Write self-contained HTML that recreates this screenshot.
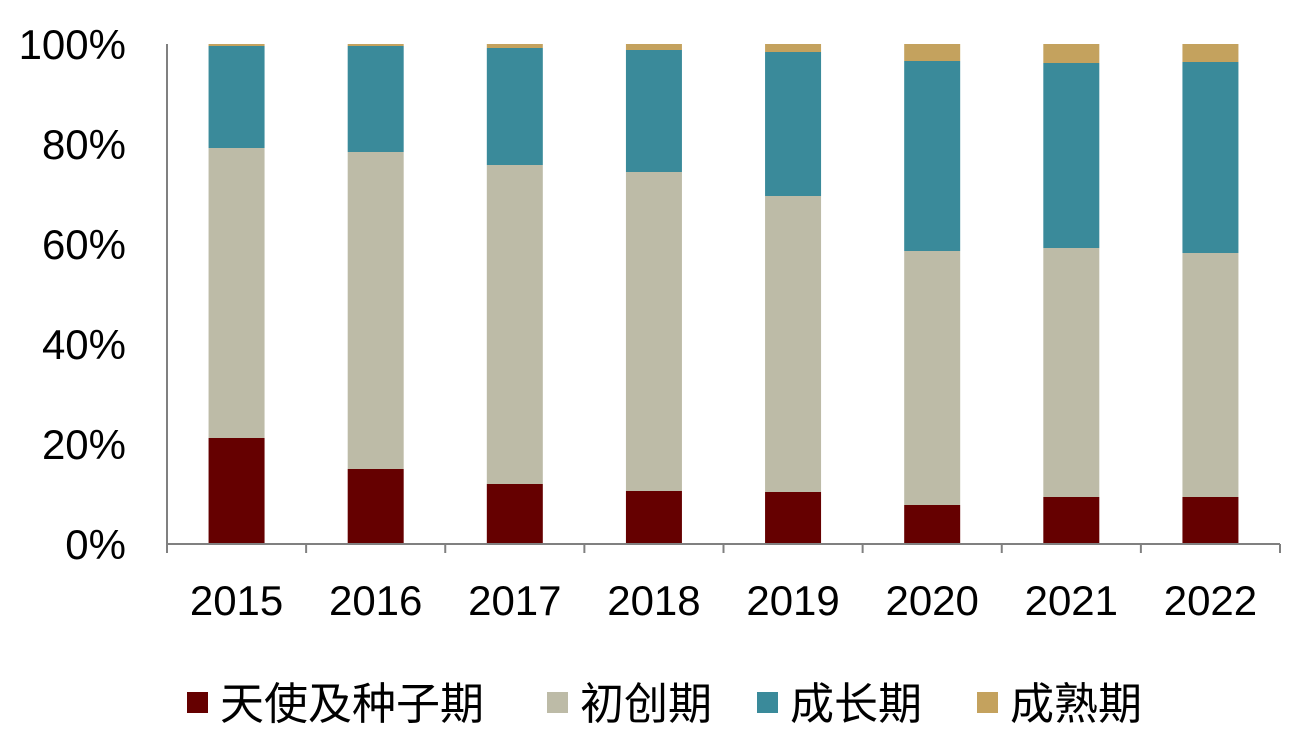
<!DOCTYPE html>
<html><head><meta charset="utf-8"><style>
html,body{margin:0;padding:0;background:#fff;}
svg{display:block;font-family:"Liberation Sans","Noto Sans CJK SC",sans-serif;}
</style></head><body>
<svg id="chart" width="1290" height="738" viewBox="0 0 1290 738"></svg>
<script>
const categories=["2015","2016","2017","2018","2019","2020","2021","2022"];
const seriesNames=["天使及种子期","初创期","成长期","成熟期"];
const angelSeed=[21.2,15.0,12.0,10.6,10.4,7.8,9.4,9.4];
const startup=[58.0,63.4,63.8,63.8,59.2,50.8,49.8,48.8];
const growth=[20.4,21.2,23.4,24.4,28.8,38.0,37.0,38.2];
const mature=[0.4,0.4,0.8,1.2,1.6,3.4,3.8,3.6];
const yTicks=[0,20,40,60,80,100];
const tickLabels=["0%","20%","40%","60%","80%","100%"];

const colors=["#650000","#BDBBA7","#3A8A9A","#C4A25E"];
const series=[angelSeed,startup,growth,mature];
const NS="http://www.w3.org/2000/svg";
const svg=document.getElementById("chart");
const x0=167,x1=1280,yBase=544,yTop=44;
const band=(x1-x0)/categories.length;
const barW=56;
const y=v=>yBase-(v/100)*(yBase-yTop);
const xc=i=>x0+band*(i+0.5);
function mk(tag,attrs){const e=document.createElementNS(NS,tag);for(const k in attrs)e.setAttribute(k,attrs[k]);svg.appendChild(e);return e;}

categories.forEach((c,i)=>{
  let acc=0;
  series.forEach((s,j)=>{
    const r=mk("rect",{x:xc(i)-barW/2,y:y(acc+s[i]),width:barW,height:y(acc)-y(acc+s[i]),fill:colors[j]});
    
    
    acc+=s[i];
  });
  const t=mk("text",{x:xc(i),y:615,"text-anchor":"middle","font-size":"42",fill:"#000"});
  t.textContent=c;
  
  
});
yTicks.forEach((v,i)=>{
  const t=mk("text",{x:126,y:y(v)+15,"text-anchor":"end","font-size":"42",fill:"#000"});
  t.textContent=tickLabels[i];
  
  
});
const ya=mk("line",{x1:x0,y1:yTop,x2:x0,y2:yBase,stroke:"#808080","stroke-width":2});


const xa=mk("line",{x1:x0,y1:yBase,x2:x1,y2:yBase,stroke:"#808080","stroke-width":2});


for(let i=0;i<=categories.length;i++){
  const tk=mk("line",{x1:x0+band*i,y1:yBase,x2:x0+band*i,y2:yBase+9,stroke:"#808080","stroke-width":2});
  
  
}
const legX=[187,547,757,977];
seriesNames.forEach((n,j)=>{
  const sq=mk("rect",{x:legX[j],y:692,width:21,height:21,fill:colors[j]});
  
  
  const t=mk("text",{x:legX[j]+33,y:719,"font-size":"44",fill:"#000"});
  t.textContent=n;
  
  
});
</script>
</body></html>
